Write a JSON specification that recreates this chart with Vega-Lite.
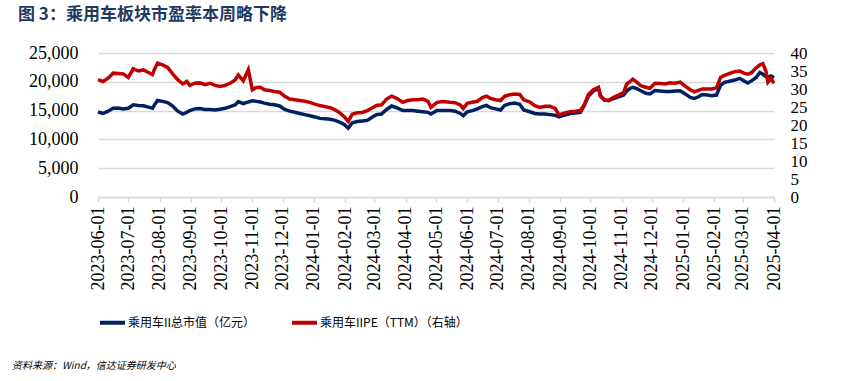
{
  "$schema": "https://vega.github.io/schema/vega-lite/v6.json",
  "padding": {"left": 5, "top": 6, "right": 0, "bottom": 0},
  "background": "white",
  "title": {"text": "资料来源：Wind，信达证券研发中心", "orient": "bottom", "anchor": "start", "frame": "bounds", "dx": 7, "fontSize": 10, "font": "Noto Sans CJK SC", "fontStyle": "italic", "fontWeight": "normal", "color": "#000000", "offset": 30},
  "resolve": {"legend": {"color": "independent"}, "scale": {"color": "independent"}},
  "config": {
    "view": {"stroke": null},
    "axis": {"labelFont": "Liberation Serif", "labelColor": "#000000", "titleFont": "Liberation Serif"}
  },
  "vconcat": [
    {
      "width": 676,
      "height": 144,
      "title": {"text": "图 3：乘用车板块市盈率本周略下降", "anchor": "start", "frame": "bounds", "dx": 13, "fontSize": 17, "font": "Noto Sans CJK SC", "fontWeight": "bold", "color": "#1f3a5f", "offset": 20},
      "data": {"values": [
        {"date": "2023-06-01", "mv": 14750, "pe": 32.6},
        {"date": "2023-06-06", "mv": 14500, "pe": 32.1},
        {"date": "2023-06-11", "mv": 14900, "pe": 33.0},
        {"date": "2023-06-16", "mv": 15400, "pe": 34.4},
        {"date": "2023-06-21", "mv": 15450, "pe": 34.3},
        {"date": "2023-06-26", "mv": 15300, "pe": 34.2},
        {"date": "2023-07-01", "mv": 15400, "pe": 33.2},
        {"date": "2023-07-06", "mv": 16000, "pe": 35.6},
        {"date": "2023-07-11", "mv": 15900, "pe": 35.0},
        {"date": "2023-07-16", "mv": 15850, "pe": 35.3},
        {"date": "2023-07-21", "mv": 15600, "pe": 34.6},
        {"date": "2023-07-25", "mv": 15400, "pe": 34.0},
        {"date": "2023-07-27", "mv": 16000, "pe": 35.5},
        {"date": "2023-07-30", "mv": 16750, "pe": 37.2},
        {"date": "2023-08-04", "mv": 16600, "pe": 36.7},
        {"date": "2023-08-09", "mv": 16400, "pe": 36.0},
        {"date": "2023-08-14", "mv": 15800, "pe": 34.2},
        {"date": "2023-08-19", "mv": 14900, "pe": 32.6},
        {"date": "2023-08-24", "mv": 14400, "pe": 31.4},
        {"date": "2023-08-28", "mv": 14700, "pe": 32.1},
        {"date": "2023-08-31", "mv": 15000, "pe": 31.0},
        {"date": "2023-09-05", "mv": 15300, "pe": 31.6},
        {"date": "2023-09-10", "mv": 15350, "pe": 31.7},
        {"date": "2023-09-15", "mv": 15200, "pe": 31.2},
        {"date": "2023-09-20", "mv": 15200, "pe": 31.6},
        {"date": "2023-09-25", "mv": 15100, "pe": 31.0},
        {"date": "2023-09-30", "mv": 15250, "pe": 30.7},
        {"date": "2023-10-05", "mv": 15400, "pe": 31.0},
        {"date": "2023-10-10", "mv": 15700, "pe": 31.6},
        {"date": "2023-10-15", "mv": 16000, "pe": 32.5},
        {"date": "2023-10-18", "mv": 16550, "pe": 33.9},
        {"date": "2023-10-23", "mv": 16200, "pe": 32.3},
        {"date": "2023-10-28", "mv": 16500, "pe": 35.4},
        {"date": "2023-11-01", "mv": 16700, "pe": 29.8},
        {"date": "2023-11-05", "mv": 16600, "pe": 30.4},
        {"date": "2023-11-09", "mv": 16500, "pe": 30.5},
        {"date": "2023-11-13", "mv": 16300, "pe": 29.8},
        {"date": "2023-11-18", "mv": 16100, "pe": 29.6},
        {"date": "2023-11-23", "mv": 16000, "pe": 29.3},
        {"date": "2023-11-28", "mv": 15800, "pe": 29.1},
        {"date": "2023-12-03", "mv": 15200, "pe": 28.0},
        {"date": "2023-12-08", "mv": 14900, "pe": 27.2},
        {"date": "2023-12-13", "mv": 14700, "pe": 27.0},
        {"date": "2023-12-18", "mv": 14500, "pe": 26.8},
        {"date": "2023-12-23", "mv": 14300, "pe": 26.6},
        {"date": "2023-12-28", "mv": 14100, "pe": 26.3},
        {"date": "2024-01-02", "mv": 13900, "pe": 25.8},
        {"date": "2024-01-07", "mv": 13650, "pe": 25.4},
        {"date": "2024-01-12", "mv": 13600, "pe": 25.1},
        {"date": "2024-01-17", "mv": 13500, "pe": 24.8},
        {"date": "2024-01-22", "mv": 13300, "pe": 24.2},
        {"date": "2024-01-27", "mv": 12950, "pe": 23.3},
        {"date": "2024-01-31", "mv": 12600, "pe": 22.3},
        {"date": "2024-02-04", "mv": 11950, "pe": 21.0},
        {"date": "2024-02-08", "mv": 12900, "pe": 23.0},
        {"date": "2024-02-13", "mv": 13100, "pe": 23.4},
        {"date": "2024-02-18", "mv": 13200, "pe": 23.5},
        {"date": "2024-02-23", "mv": 13300, "pe": 24.0},
        {"date": "2024-02-28", "mv": 13900, "pe": 24.8},
        {"date": "2024-03-03", "mv": 14300, "pe": 25.4},
        {"date": "2024-03-08", "mv": 14400, "pe": 25.6},
        {"date": "2024-03-13", "mv": 15200, "pe": 27.2},
        {"date": "2024-03-18", "mv": 15800, "pe": 28.0},
        {"date": "2024-03-23", "mv": 15500, "pe": 27.4},
        {"date": "2024-03-29", "mv": 15000, "pe": 26.3},
        {"date": "2024-04-03", "mv": 15000, "pe": 26.8},
        {"date": "2024-04-08", "mv": 15000, "pe": 27.0},
        {"date": "2024-04-13", "mv": 14900, "pe": 27.0},
        {"date": "2024-04-18", "mv": 14800, "pe": 27.2},
        {"date": "2024-04-23", "mv": 14700, "pe": 26.6},
        {"date": "2024-04-26", "mv": 14400, "pe": 24.9},
        {"date": "2024-05-02", "mv": 15000, "pe": 26.3},
        {"date": "2024-05-08", "mv": 15000, "pe": 26.5},
        {"date": "2024-05-15", "mv": 15000, "pe": 26.3},
        {"date": "2024-05-20", "mv": 14900, "pe": 26.2},
        {"date": "2024-05-25", "mv": 14500, "pe": 25.6},
        {"date": "2024-05-28", "mv": 14100, "pe": 24.6},
        {"date": "2024-06-01", "mv": 14800, "pe": 26.0},
        {"date": "2024-06-06", "mv": 15000, "pe": 26.3},
        {"date": "2024-06-11", "mv": 15300, "pe": 26.6},
        {"date": "2024-06-16", "mv": 15700, "pe": 27.6},
        {"date": "2024-06-20", "mv": 15900, "pe": 28.0},
        {"date": "2024-06-24", "mv": 15500, "pe": 27.4},
        {"date": "2024-06-29", "mv": 15300, "pe": 27.0},
        {"date": "2024-07-04", "mv": 15100, "pe": 26.8},
        {"date": "2024-07-08", "mv": 15900, "pe": 28.0},
        {"date": "2024-07-13", "mv": 16200, "pe": 28.4},
        {"date": "2024-07-18", "mv": 16300, "pe": 28.6},
        {"date": "2024-07-23", "mv": 16100, "pe": 28.5},
        {"date": "2024-07-27", "mv": 15100, "pe": 27.0},
        {"date": "2024-08-02", "mv": 14800, "pe": 26.4},
        {"date": "2024-08-07", "mv": 14500, "pe": 25.4},
        {"date": "2024-08-12", "mv": 14400, "pe": 24.9},
        {"date": "2024-08-17", "mv": 14400, "pe": 25.2},
        {"date": "2024-08-22", "mv": 14300, "pe": 25.2},
        {"date": "2024-08-27", "mv": 14200, "pe": 24.6},
        {"date": "2024-08-31", "mv": 13900, "pe": 22.8},
        {"date": "2024-09-05", "mv": 14200, "pe": 23.3},
        {"date": "2024-09-11", "mv": 14500, "pe": 23.7},
        {"date": "2024-09-16", "mv": 14600, "pe": 23.8},
        {"date": "2024-09-21", "mv": 14700, "pe": 24.0},
        {"date": "2024-09-25", "mv": 15900, "pe": 25.6},
        {"date": "2024-09-29", "mv": 17500, "pe": 28.5},
        {"date": "2024-10-04", "mv": 18400, "pe": 29.8},
        {"date": "2024-10-09", "mv": 18900, "pe": 30.5},
        {"date": "2024-10-11", "mv": 17600, "pe": 28.0},
        {"date": "2024-10-15", "mv": 16800, "pe": 27.0},
        {"date": "2024-10-19", "mv": 16700, "pe": 26.8},
        {"date": "2024-10-24", "mv": 17100, "pe": 27.7},
        {"date": "2024-10-29", "mv": 17400, "pe": 28.3},
        {"date": "2024-11-03", "mv": 17700, "pe": 29.0},
        {"date": "2024-11-06", "mv": 18400, "pe": 31.4},
        {"date": "2024-11-09", "mv": 18800, "pe": 32.0},
        {"date": "2024-11-12", "mv": 19050, "pe": 32.7},
        {"date": "2024-11-16", "mv": 18800, "pe": 31.9},
        {"date": "2024-11-20", "mv": 18450, "pe": 30.9},
        {"date": "2024-11-25", "mv": 18000, "pe": 30.5},
        {"date": "2024-11-29", "mv": 17900, "pe": 30.2},
        {"date": "2024-12-04", "mv": 18500, "pe": 31.6},
        {"date": "2024-12-09", "mv": 18400, "pe": 31.5},
        {"date": "2024-12-14", "mv": 18300, "pe": 31.4},
        {"date": "2024-12-19", "mv": 18300, "pe": 31.7},
        {"date": "2024-12-24", "mv": 18400, "pe": 31.6},
        {"date": "2024-12-29", "mv": 18450, "pe": 31.9},
        {"date": "2025-01-03", "mv": 17900, "pe": 30.8},
        {"date": "2025-01-08", "mv": 17300, "pe": 29.8},
        {"date": "2025-01-12", "mv": 17100, "pe": 29.2},
        {"date": "2025-01-16", "mv": 17400, "pe": 29.6},
        {"date": "2025-01-20", "mv": 17800, "pe": 30.0},
        {"date": "2025-01-25", "mv": 17700, "pe": 30.0},
        {"date": "2025-01-29", "mv": 17600, "pe": 30.0},
        {"date": "2025-02-03", "mv": 17700, "pe": 30.3},
        {"date": "2025-02-07", "mv": 19400, "pe": 33.2},
        {"date": "2025-02-11", "mv": 19900, "pe": 33.8},
        {"date": "2025-02-16", "mv": 20100, "pe": 34.3},
        {"date": "2025-02-21", "mv": 20300, "pe": 34.8},
        {"date": "2025-02-26", "mv": 20600, "pe": 35.0},
        {"date": "2025-03-02", "mv": 20200, "pe": 34.4},
        {"date": "2025-03-06", "mv": 19800, "pe": 34.1},
        {"date": "2025-03-10", "mv": 20200, "pe": 34.6},
        {"date": "2025-03-14", "mv": 20700, "pe": 35.8},
        {"date": "2025-03-18", "mv": 21600, "pe": 36.7},
        {"date": "2025-03-21", "mv": 21300, "pe": 37.0},
        {"date": "2025-03-24", "mv": 20900, "pe": 35.0},
        {"date": "2025-03-26", "mv": 20800, "pe": 31.9},
        {"date": "2025-03-29", "mv": 21000, "pe": 32.9},
        {"date": "2025-04-01", "mv": 20700, "pe": 31.6}
      ]},
      "encoding": {
        "x": {
          "field": "date", "type": "temporal",
          "scale": {"type": "utc", "nice": false, "domain": [{"year": 2023, "month": 6, "date": 1, "utc": true}, {"year": 2025, "month": 4, "date": 1, "utc": true}]},
          "axis": {"title": null, "format": "%Y-%m-%d", "tickCount": {"interval": "month", "step": 1}, "labelAngle": -90, "labelFontSize": 18, "labelPadding": 4, "labelOverlap": false, "labelFlush": false, "grid": false, "domainColor": "#d9d9d9", "domainWidth": 1.5, "tickColor": "#d9d9d9", "tickWidth": 1.5, "tickSize": 5}
        }
      },
      "layer": [
        {
          "transform": [{"fold": ["mv"], "as": ["series", "value"]}],
          "mark": {"type": "line", "strokeWidth": 3.5},
          "encoding": {
            "y": {"field": "value", "type": "quantitative", "scale": {"domain": [0, 25000]},
              "axis": {"title": null, "values": [0, 5000, 10000, 15000, 20000, 25000], "format": ",d", "labelFontSize": 18, "ticks": false, "domain": false, "grid": true, "gridColor": "#d9d9d9", "gridWidth": 1.5, "labelPadding": 20, "minExtent": 93, "maxExtent": 93}},
            "color": {"field": "series", "type": "nominal", "scale": {"domain": ["mv", "pe"], "range": ["#002060", "#C00000"]},
              "legend": {"orient": "bottom", "direction": "horizontal", "title": null, "symbolType": "stroke", "symbolStrokeWidth": 4, "symbolSize": 625, "labelFont": "Noto Sans CJK SC", "labelFontSize": 12, "labelColor": "#000000", "columnPadding": 28, "labelOffset": 1, "offset": 18, "labelLimit": 300, "labelExpr": "datum.label == 'mv' ? '乘用车II总市值（亿元）' : '乘用车IIPE（TTM）（右轴）'"}}
          }
        },
        {
          "transform": [{"fold": ["pe"], "as": ["series", "value"]}],
          "mark": {"type": "line", "strokeWidth": 3.5},
          "encoding": {
            "y": {"field": "value", "type": "quantitative", "scale": {"domain": [0, 40]},
              "axis": {"orient": "right", "title": null, "values": [0, 5, 10, 15, 20, 25, 30, 35, 40], "labelFontSize": 17, "ticks": false, "domain": false, "grid": false, "labelPadding": 16}},
            "color": {"field": "series", "type": "nominal"}
          }
        }
      ],
      "resolve": {"scale": {"y": "independent"}}
    }
  ]
}
